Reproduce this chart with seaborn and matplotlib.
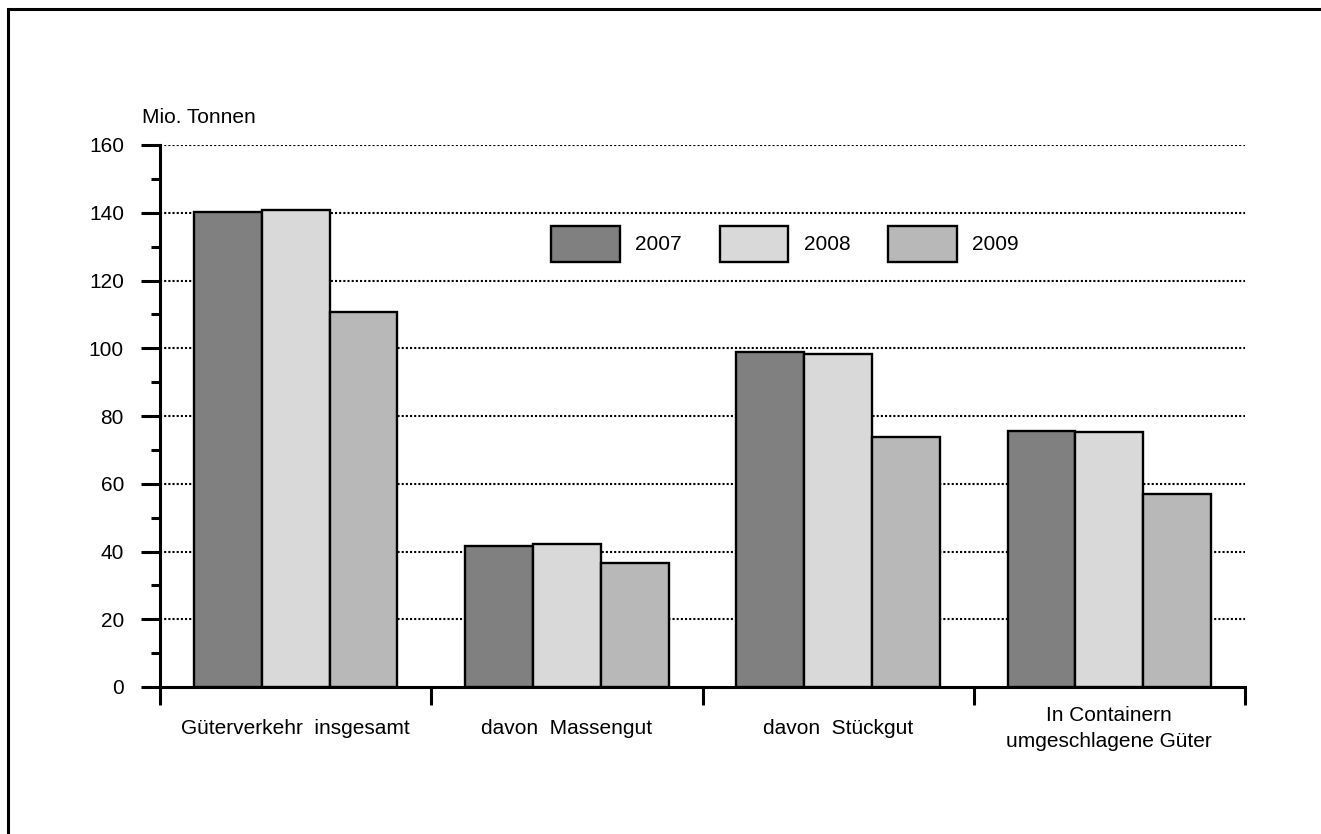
import matplotlib
matplotlib.use("Agg")
import matplotlib.pyplot as plt
import seaborn as sns
import pandas as pd
from matplotlib.patches import Rectangle
from matplotlib.ticker import MultipleLocator

categories = ["Güterverkehr  insgesamt", "davon  Massengut", "davon  Stückgut",
              "In Containern\numgeschlagene Güter"]
years = ["2007", "2008", "2009"]
v2007 = [140.2, 41.5, 98.8, 75.7]
v2008 = [140.7, 42.3, 98.3, 75.4]
v2009 = [110.7, 36.6, 73.9, 57.1]
colors = {"2007": "#808080", "2008": "#d9d9d9", "2009": "#b8b8b8"}

rows = []
for yr, vals in zip(years, [v2007, v2008, v2009]):
    for c, v in zip(categories, vals):
        rows.append({"cat": c, "year": yr, "val": v})
df = pd.DataFrame(rows)

sns.set_style("white")
plt.rcParams["font.family"] = ["Liberation Sans", "DejaVu Sans"]
plt.rcParams["text.color"] = "black"
plt.rcParams["xtick.color"] = "black"
plt.rcParams["ytick.color"] = "black"
plt.rcParams["xtick.labelcolor"] = "black"
plt.rcParams["ytick.labelcolor"] = "black"

W, H = 1321, 834
fig = plt.figure(figsize=(W / 100, H / 100), dpi=100)
ax = fig.add_axes([160 / W, 1 - 687 / H, (1245 - 160) / W, (687 - 145) / H])

sns.barplot(data=df, x="cat", y="val", hue="year", hue_order=years, order=categories,
            palette=colors, width=0.75, gap=0, edgecolor="black", linewidth=1.7,
            saturation=1, ax=ax, zorder=3)

ax.set_xlim(-0.5, 3.5)
ax.set_ylim(0, 160)
ax.set_xlabel("")
ax.set_ylabel("")

# grid
for yv in range(20, 161, 20):
    ax.axhline(yv, color="black", lw=1.5, ls=(0, (1, 1)), zorder=1)

for s in ["top", "right"]:
    ax.spines[s].set_visible(False)
for s in ["left", "bottom"]:
    ax.spines[s].set_linewidth(2.2)
    ax.spines[s].set_color("black")

ax.yaxis.set_major_locator(MultipleLocator(20))
ax.yaxis.set_minor_locator(MultipleLocator(10))
ax.tick_params(axis="y", which="major", direction="out", length=13.5, width=2.2,
               labelsize=15, pad=12.5, color="black", left=True)
ax.tick_params(axis="y", which="minor", direction="out", length=6.5, width=2.2,
               color="black", left=True)

ax.set_xticks(range(4))
ax.set_xticklabels(categories, fontsize=15, linespacing=1.46)
ax.set_xticks([-0.5, 0.5, 1.5, 2.5, 3.5], minor=True)
ax.tick_params(axis="x", which="major", length=0, pad=30)
ax.tick_params(axis="x", which="minor", direction="out", length=13, width=2.2,
               color="black", bottom=True)
for lbl in ax.get_xticklabels():
    lbl.set_va("center")
    lbl.set_ha("center")
    lbl.set_multialignment("center")

fig.text(142 / W, 1 - 123 / H, "Mio. Tonnen", fontsize=15, ha="left", va="baseline")

sns.move_legend(ax, "center", bbox_to_anchor=(785 / W, 1 - 244 / H),
                bbox_transform=fig.transFigure, ncol=3, frameon=False, title=None,
                fontsize=15, handlelength=3.3, handleheight=2.3,
                handletextpad=0.75, columnspacing=1.8)

fig.add_artist(Rectangle((8 / W, -0.1), 2, 1.1 - 9 / H, transform=fig.transFigure,
                         fill=False, lw=2.2, edgecolor="black"))

fig.savefig("out.png", dpi=100)
